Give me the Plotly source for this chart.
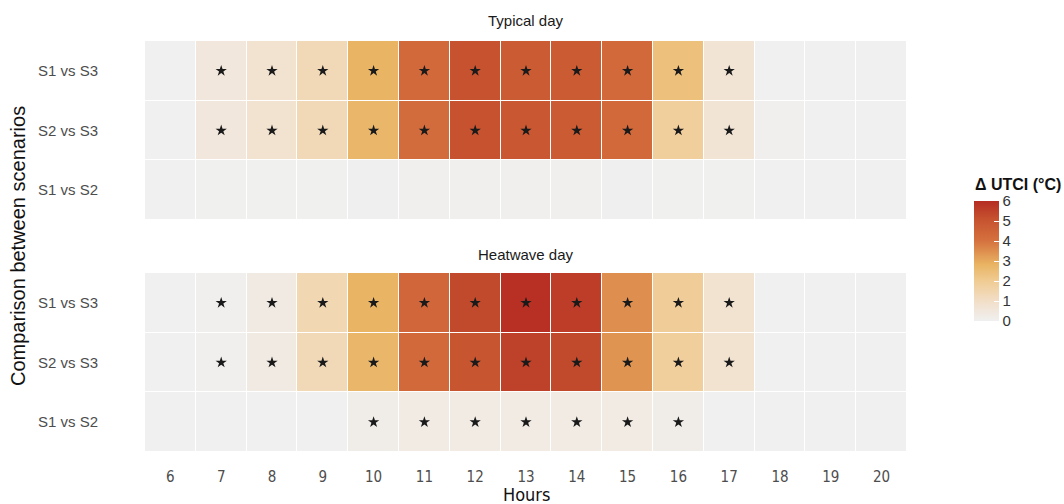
import plotly.graph_objects as go

hours = list(range(6, 21))
comparisons = ["S1 vs S3", "S2 vs S3", "S1 vs S2"]

# Mean UTCI difference (°C) per hour, one list per comparison
typical_s1_s3 = [0.0, 0.5, 0.8, 1.3, 2.8, 4.3, 5.1, 4.8, 4.8, 4.3, 2.4, 0.7, 0.0, 0.0, 0.0]
typical_s2_s3 = [0.0, 0.5, 0.8, 1.3, 2.7, 4.2, 5.1, 4.9, 4.8, 4.3, 1.8, 0.7, 0.05, 0.0, 0.0]
typical_s1_s2 = [0.0, 0.02, 0.02, 0.02, 0.03, 0.05, 0.04, 0.05, 0.05, 0.03, 0.02, 0.02, 0.0, 0.0, 0.0]

heatwave_s1_s3 = [0.0, 0.05, 0.35, 1.4, 2.8, 4.4, 5.3, 5.9, 5.6, 3.5, 1.9, 0.8, 0.0, 0.0, 0.0]
heatwave_s2_s3 = [0.0, 0.05, 0.35, 1.3, 2.7, 4.3, 5.0, 5.5, 5.3, 3.4, 1.8, 0.8, 0.0, 0.0, 0.0]
heatwave_s1_s2 = [0.0, 0.0, 0.0, 0.0, 0.2, 0.3, 0.3, 0.3, 0.3, 0.3, 0.2, 0.0, 0.0, 0.0, 0.0]

# Hours with a significant difference (marked with a star)
typical_sig = {
    "S1 vs S3": list(range(7, 18)),
    "S2 vs S3": list(range(7, 18)),
    "S1 vs S2": [],
}
heatwave_sig = {
    "S1 vs S3": list(range(7, 18)),
    "S2 vs S3": list(range(7, 18)),
    "S1 vs S2": list(range(10, 17)),
}

colorscale = [
    [0.0, "#f0f0f0"],
    [0.15, "#f2e0cc"],
    [0.33, "#f0cc94"],
    [0.47, "#e9b463"],
    [0.67, "#d5713e"],
    [0.85, "#c6522f"],
    [1.0, "#b52c22"],
]

W, H = 1064, 504
x_dom = [145 / W, 907 / W]
top_dom = [1 - 220 / H, 1 - 41 / H]
bot_dom = [1 - 452 / H, 1 - 273 / H]

NARROW = "DejaVu Sans Condensed, Liberation Sans Narrow, Arial Narrow, Liberation Sans"
SANS = "Liberation Sans, Arial, sans-serif"

fig = go.Figure()

panels = [
    ("x", "y", [typical_s1_s3, typical_s2_s3, typical_s1_s2], typical_sig, True),
    ("x2", "y2", [heatwave_s1_s3, heatwave_s2_s3, heatwave_s1_s2], heatwave_sig, False),
]

for xa, ya, z, sig, show_cb in panels:
    fig.add_trace(go.Heatmap(
        x=hours, y=comparisons, z=z,
        xaxis=xa, yaxis=ya,
        zmin=0, zmax=6, colorscale=colorscale,
        xgap=1, ygap=1,
        showscale=show_cb,
        colorbar=dict(
            x=974 / W, xanchor="left",
            y=1 - 321 / H, yanchor="bottom",
            len=120 / H, lenmode="fraction",
            ypad=0, xpad=0,
            thickness=25, outlinewidth=0,
            tickvals=[0, 1, 2, 3, 4, 5, 6],
            ticks="inside", ticklen=5, tickcolor="white", tickwidth=1,
            tickfont=dict(family=SANS, size=15, color="#333333"),
        ),
        hoverinfo="skip",
    ))
    sx, sy = [], []
    for comp in comparisons:
        for h in sig[comp]:
            sx.append(h)
            sy.append(comp)
    fig.add_trace(go.Scatter(
        x=sx, y=sy, xaxis=xa, yaxis=ya, mode="markers",
        marker=dict(symbol="star", size=8.5, color="#1a1a1a", line=dict(width=0)),
        showlegend=False, hoverinfo="skip",
    ))

yaxis_common = dict(
    type="category", categoryorder="array", categoryarray=comparisons[::-1],
    showgrid=False, zeroline=False, ticks="", ticklen=0,
    ticklabelstandoff=46,
    tickfont=dict(family=SANS, size=15, color="#4d4d4d"),
)

fig.update_layout(
    width=W, height=H,
    margin=dict(l=0, r=0, t=0, b=0),
    paper_bgcolor="white", plot_bgcolor="white",
    showlegend=False,
    xaxis=dict(domain=x_dom, anchor="y", range=[5.5, 20.5], showticklabels=False,
               showgrid=False, zeroline=False, tickvals=hours),
    yaxis=dict(domain=top_dom, anchor="x", **yaxis_common),
    xaxis2=dict(domain=x_dom, anchor="y2", range=[5.5, 20.5], tickvals=hours,
                showgrid=False, zeroline=False, ticks="",
                ticklabelstandoff=14,
                tickfont=dict(family=NARROW, size=15, color="#4d4d4d")),
    yaxis2=dict(domain=bot_dom, anchor="x2", **yaxis_common),
    annotations=[
        dict(text="Typical day", x=526 / W, y=1 - 21 / H, xref="paper", yref="paper",
             xanchor="center", yanchor="middle",
             showarrow=False, font=dict(family=SANS, size=15, color="#1a1a1a")),
        dict(text="Heatwave day", x=526 / W, y=1 - 254 / H, xref="paper", yref="paper",
             xanchor="center", yanchor="middle",
             showarrow=False, font=dict(family=SANS, size=15, color="#1a1a1a")),
        dict(text="Hours", x=526 / W, y=1 - 494 / H, xref="paper", yref="paper",
             xanchor="center", yanchor="middle",
             showarrow=False, font=dict(family=NARROW, size=18, color="#111111")),
        dict(text="Comparison between scenarios", x=18 / W, y=1 - 246 / H, xref="paper", yref="paper",
             xanchor="center", yanchor="middle",
             textangle=-90, showarrow=False,
             font=dict(family=SANS, size=20, color="#111111")),
        dict(text="<b>Δ UTCI (°C)</b>", x=973 / W, y=1 - 184 / H, xref="paper", yref="paper",
             xanchor="left", yanchor="middle", showarrow=False,
             font=dict(family=SANS, size=16, color="#111111")),
    ],
)

fig.write_html("out.html")
